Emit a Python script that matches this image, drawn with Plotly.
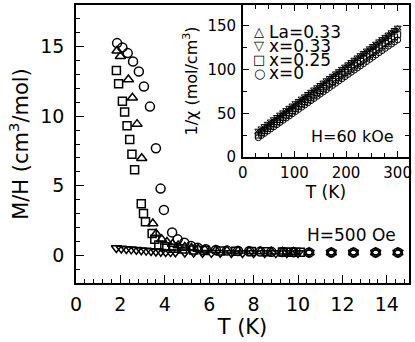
import plotly.graph_objects as go

# main panel: M/H vs T at H=500 Oe
t_x0 = [1.85, 2.09, 2.33, 2.57, 2.83, 3.06, 3.33, 3.60, 3.81, 3.96, 4.33, 4.58, 4.88, 5.18, 5.48, 5.85,
        6.3, 6.8, 7.3, 7.8, 8.3, 8.8, 9.3, 9.8, 10.5, 11.5, 12.5, 13.5, 14.5]
m_x0 = [15.26, 14.95, 14.54, 13.93, 13.21, 12.14, 10.69, 7.69, 4.79, 3.26, 1.64, 1.14, 0.90, 0.66, 0.54, 0.43,
        0.37, 0.33, 0.30, 0.28, 0.26, 0.24, 0.23, 0.22, 0.19, 0.19, 0.19, 0.19, 0.19]

t_la = [1.85, 2.00, 2.36, 2.54, 2.75, 2.96, 3.46, 3.61, 3.86, 4.10, 4.35, 4.60, 4.90, 5.20, 5.50, 5.80,
        6.3, 6.8, 7.3, 7.8, 8.3, 8.8, 9.3, 9.8, 10.5, 11.5, 12.5, 13.5, 14.5]
m_la = [14.71, 14.31, 12.64, 11.33, 9.43, 6.97, 2.28, 1.54, 1.14, 0.95, 0.80, 0.70, 0.60, 0.52, 0.45, 0.40,
        0.35, 0.32, 0.30, 0.28, 0.26, 0.25, 0.24, 0.23, 0.19, 0.19, 0.19, 0.19, 0.19]

t_x25 = [1.82, 1.92, 2.09, 2.19, 2.30, 2.42, 2.52, 2.64, 2.94, 3.04, 3.13, 3.43, 3.55, 3.73, 4.0, 4.4,
         4.8, 5.3, 5.8, 6.5, 7.2, 7.9, 8.6, 9.3, 9.5, 9.7, 9.9, 10.1]
m_x25 = [13.28, 12.33, 11.07, 10.31, 9.31, 8.33, 7.26, 6.14, 3.71, 3.00, 2.40, 1.57, 1.14, 0.74, 0.60, 0.50,
         0.44, 0.38, 0.34, 0.30, 0.28, 0.26, 0.24, 0.23, 0.22, 0.22, 0.21, 0.21]

t_x33 = [1.82, 2.04, 2.27, 2.49, 2.72, 2.94, 3.16, 3.38, 3.60, 3.82, 4.04, 4.26, 4.48, 4.90, 5.30, 5.70,
         6.1, 6.5, 7.0, 7.5, 8.0, 8.5, 9.0, 9.5, 10.0, 10.5, 11.5, 12.5, 13.5, 14.5]
m_x33 = [0.52, 0.48, 0.45, 0.42, 0.39, 0.36, 0.33, 0.30, 0.27, 0.25, 0.23, 0.22, 0.21, 0.20, 0.19, 0.18,
         0.17, 0.17, 0.16, 0.16, 0.15, 0.15, 0.15, 0.15, 0.15, 0.19, 0.19, 0.19, 0.19, 0.19]

# inset: 1/chi vs T at H=60 kOe
t_hi = [30, 36, 42, 48, 54, 60, 66, 72, 78, 84, 90, 96, 102, 108, 114, 120, 126, 132, 138, 144, 150, 156,
        162, 168, 174, 180, 186, 192, 198, 204, 210, 216, 222, 228, 234, 240, 246, 252, 258, 264, 270, 276,
        282, 288, 294, 300]
inv_la = [28.0, 30.6, 33.3, 35.9, 38.6, 41.2, 43.9, 46.5, 49.2, 51.8, 54.4, 57.1, 59.7, 62.4, 65.0, 67.7,
          70.3, 72.9, 75.6, 78.2, 80.9, 83.5, 86.2, 88.8, 91.5, 94.1, 96.7, 99.4, 102.0, 104.7, 107.3, 110.0,
          112.6, 115.2, 117.9, 120.5, 123.2, 125.8, 128.5, 131.1, 133.7, 136.4, 139.0, 141.7, 144.3, 147.0]
inv_x33 = [30.0, 32.6, 35.2, 37.9, 40.5, 43.1, 45.7, 48.4, 51.0, 53.6, 56.2, 58.8, 61.5, 64.1, 66.7, 69.3,
           72.0, 74.6, 77.2, 79.8, 82.4, 85.1, 87.7, 90.3, 92.9, 95.6, 98.2, 100.8, 103.4, 106.0, 108.7, 111.3,
           113.9, 116.5, 119.1, 121.8, 124.4, 127.0, 129.6, 132.3, 134.9, 137.5, 140.1, 142.7, 145.4, 148.0]
inv_x25 = [25.0, 27.6, 30.1, 32.7, 35.2, 37.8, 40.3, 42.9, 45.4, 48.0, 50.6, 53.1, 55.7, 58.2, 60.8, 63.3,
           65.9, 68.4, 71.0, 73.6, 76.1, 78.7, 81.2, 83.8, 86.3, 88.9, 91.4, 94.0, 96.6, 99.1, 101.7, 104.2,
           106.8, 109.3, 111.9, 114.4, 117.0, 119.6, 122.1, 124.7, 127.2, 129.8, 132.3, 134.9, 137.4, 140.0]
inv_x0 = [22.0, 24.5, 27.0, 29.5, 32.0, 34.4, 36.9, 39.4, 41.9, 44.4, 46.9, 49.4, 51.9, 54.4, 56.9, 59.4,
          61.9, 64.4, 66.9, 69.4, 71.9, 74.4, 76.9, 79.4, 81.9, 84.4, 86.9, 89.4, 91.9, 94.4, 96.9, 99.4,
          101.8, 104.3, 106.8, 109.3, 111.8, 114.3, 116.8, 119.3, 121.8, 124.3, 126.8, 129.2, 131.7, 134.0]

labels = ['La=0.33', 'x=0.33', 'x=0.25', 'x=0']
glyphs = ['\u25b3', '\u25bd', '\u25a1', '\u25cb']

FONT = 'DejaVu Sans'

fig = go.Figure()

main_sets = [(t_la, m_la, 'triangle-up-open', 9), (t_x33, m_x33, 'triangle-down-open', 9),
             (t_x25, m_x25, 'square-open', 8), (t_x0, m_x0, 'circle-open', 9)]
for tt, mm, sym, sz in main_sets:
    fig.add_trace(go.Scatter(x=tt, y=mm, mode='markers', showlegend=False,
                             marker=dict(symbol=sym, size=sz, color='black', line=dict(width=1.5))))

inset_sets = [(inv_la, 'triangle-up-open'), (inv_x33, 'triangle-down-open'),
              (inv_x25, 'square-open'), (inv_x0, 'circle-open')]
for vv, sym in inset_sets:
    fig.add_trace(go.Scatter(x=t_hi, y=vv, mode='markers', showlegend=False, xaxis='x2', yaxis='y2',
                             marker=dict(symbol=sym, size=6, color='black', line=dict(width=1))))

ax_common = dict(showgrid=False, zeroline=False, showline=True, linecolor='black', linewidth=1.5,
                 ticks='inside', tickcolor='black', tickwidth=1.2)

fig.update_layout(
    width=415, height=342,
    margin=dict(l=76, r=5, t=3, b=59),
    paper_bgcolor='white', plot_bgcolor='white',
    font=dict(family=FONT, color='black'),
    xaxis=dict(range=[0, 15], dtick=2, tick0=0, ticklen=8, mirror=True,
               minor=dict(dtick=0.4, ticklen=4, ticks='inside', tickcolor='black'),
               tickfont=dict(size=19), ticklabelstandoff=3,
               title=dict(text='T (K)', font=dict(size=21), standoff=0), **ax_common),
    yaxis=dict(range=[-2, 18], dtick=5, tick0=0, ticklen=8, mirror=True,
               minor=dict(dtick=1, ticklen=4, ticks='inside', tickcolor='black'),
               tickfont=dict(size=19), ticklabelstandoff=6,
               title=dict(text='M/H (cm<sup>3</sup>/mol)', font=dict(size=21), standoff=6), **ax_common),
    xaxis2=dict(domain=[0.501, 1], anchor='y2', range=[0, 322], dtick=100, tick0=0, ticklen=6, mirror='ticks',
                minor=dict(dtick=25, ticklen=4, ticks='inside', tickcolor='black'),
                tickfont=dict(size=15), ticklabelstandoff=1,
                title=dict(text='T (K)', font=dict(size=17), standoff=0), **ax_common),
    yaxis2=dict(domain=[0.4536, 1], anchor='x2', range=[0, 174], dtick=50, tick0=0, ticklen=6, mirror='ticks',
                minor=dict(dtick=25, ticklen=4, ticks='inside', tickcolor='black'),
                tickfont=dict(size=15), ticklabelstandoff=2,
                title=dict(text='1/\u03c7 (mol/cm<sup>3</sup>)', font=dict(size=16), standoff=6), **ax_common),
)

# white backing for the inset
fig.add_shape(type='rect', xref='paper', yref='paper', x0=0.501, x1=1, y0=0.4536, y1=1,
              fillcolor='white', line=dict(width=0), layer='below')

rows_y = [0.9036, 0.8536, 0.8036, 0.7536]
for lab, gl, yy in zip(labels, glyphs, rows_y):
    fig.add_annotation(x=0.551, y=yy, xref='paper', yref='paper', text=gl, showarrow=False,
                       xanchor='center', yanchor='middle', font=dict(size=13))
    fig.add_annotation(x=0.574, y=yy, xref='paper', yref='paper', text=lab, showarrow=False,
                       xanchor='left', yanchor='middle', font=dict(size=17))

fig.add_annotation(x=0.967, y=0.171, xref='paper', yref='paper', text='H=500 Oe', showarrow=False,
                   xanchor='right', yanchor='middle', font=dict(size=17))
fig.add_annotation(x=0.96, y=0.5286, xref='paper', yref='paper', text='H=60 kOe', showarrow=False,
                   xanchor='right', yanchor='middle', font=dict(size=16))

# page body has a default 8px margin; drop it so the figure sits at the window origin
fig.write_html("out.html", config={'displayModeBar': False},
               post_script="document.body.style.margin='0';")
